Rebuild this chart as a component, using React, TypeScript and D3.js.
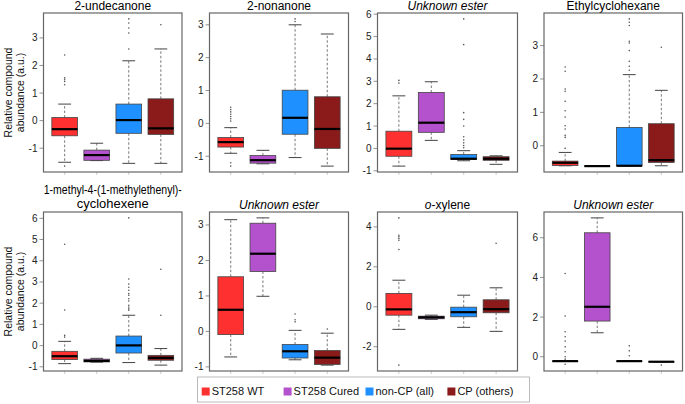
import * as d3 from 'd3'

// groups and their fills
const groups: string[] = ['ST258 WT', 'ST258 Cured', 'non-CP (all)', 'CP (others)']
const fills: string[] = ['#FF3030', '#B452CD', '#1E90FF', '#8B1A1A']

// box stats per group: [lower whisker, q1, median, q3, upper whisker]
const undecanoneStats = [[-1.51, -0.55, -0.31, 0.11, 0.6], [-1.45, -1.44, -1.25, -1.07, -0.82], [-1.55, -0.46, 0.02, 0.6, 2.17], [-1.55, -0.5, -0.28, 0.79, 2.6]]
const undecanoneOut = [[2.38, 1.55, 1.48, 1.42, 1.3, -1.65], [], [3.69, 3.54, 3.36, 3.18, 2.6], [3.48]]

const nonanoneStats = [[-0.91, -0.72, -0.57, -0.43, -0.13], [-1.23, -1.21, -1.12, -0.98, -0.82], [-1.04, -0.33, 0.17, 1.01, 3.0], [-1.3, -0.76, -0.17, 0.81, 2.72]]
const nonanoneOut = [[0.49, 0.42, 0.35, 0.28, 0.21, 0.14, 0.07, -1.2, -1.3], [], [3.18, 3.1], []]

const ester1Stats = [[-0.79, -0.35, -0.01, 0.77, 2.35], [0.36, 0.72, 1.15, 2.5, 2.98], [-0.55, -0.49, -0.46, -0.27, -0.1], [-0.71, -0.53, -0.46, -0.37, -0.33]]
const ester1Out = [[3.04, 2.92], [], [5.79, 4.64, 1.6, 1.3, 1.0, 0.52, 0.38, 0.25, 0.13, 0.03], []]

const ethylStats = [[-0.6, -0.59, -0.51, -0.46, -0.2], [-0.61, -0.61, -0.61, -0.61, -0.61], [-0.6, -0.6, -0.6, 0.55, 2.13], [-0.6, -0.5, -0.43, 0.66, 1.66]]
const ethylOut = [[2.36, 2.23, 1.7, 1.63, 1.33, 1.05, 0.86, 0.6, 0.5, 0.31, 0.25, -0.08], [], [3.8, 3.7, 3.6, 3.13, 3.08, 2.85, 2.53, 2.38, 2.26], [2.95]]

const limoneneStats = [[-0.85, -0.66, -0.5, -0.27, 0.2], [-0.78, -0.77, -0.72, -0.64, -0.6], [-0.8, -0.35, 0.01, 0.45, 1.43], [-0.92, -0.69, -0.58, -0.46, -0.14]]
const limoneneOut = [[4.78, 1.68, 0.48, 0.4], [], [6.02, 3.14, 2.9, 2.75, 2.61, 2.45, 2.37, 2.21, 2.1, 1.9, 1.82, 1.74, 1.67], [3.6, 1.43]]

const ester2Stats = [[-0.72, -0.09, 0.61, 1.54, 3.15], [0.99, 1.69, 2.19, 3.05, 3.2], [-0.8, -0.75, -0.56, -0.37, 0.03], [-0.95, -0.93, -0.74, -0.54, -0.05]]
const ester2Out = [[], [], [0.49, 0.33, 0.27], [0.07]]

const xyleneStats = [[-1.13, -0.42, -0.13, 0.67, 1.33], [-0.63, -0.6, -0.53, -0.47, -0.42], [-1.03, -0.5, -0.27, -0.02, 0.58], [-1.23, -0.3, -0.12, 0.35, 0.95]]
const xyleneOut = [[4.45, 3.58, 3.5, 3.42, 3.33, 2.87, -2.92], [], [], [3.18]]

const ester3Stats = [[-0.22, -0.22, -0.22, -0.22, -0.22], [1.21, 1.8, 2.52, 6.25, 7.0], [-0.22, -0.22, -0.22, -0.22, -0.22], [-0.25, -0.25, -0.25, -0.25, -0.25]]
const ester3Out = [[4.2, 2.05, 1.26, 1.01, 0.79, 0.5, 0.25, 0.0, -0.12, -0.38], [], [0.55, 0.3, 0.05], [-0.42]]

const titles: string[][] = [['2-undecanone'], ['2-nonanone'], ['Unknown ester'], ['Ethylcyclohexane'],
  ['1-methyl-4-(1-methylethenyl)-', 'cyclohexene'], ['Unknown ester'], ['o-xylene'], ['Unknown ester']]
const yTicks: number[][] = [[-1, 0, 1, 2, 3], [-1, 0, 1, 2, 3], [-1, 0, 1, 2, 3, 4, 5, 6], [0, 1, 2, 3],
  [-1, 0, 1, 2, 3, 4, 5, 6], [-1, 0, 1, 2, 3], [-2, 0, 2, 4], [0, 2, 4, 6]]
const statsList = [undecanoneStats, nonanoneStats, ester1Stats, ethylStats, limoneneStats, ester2Stats, xyleneStats, ester3Stats]
const outList = [undecanoneOut, nonanoneOut, ester1Out, ethylOut, limoneneOut, ester2Out, xyleneOut, ester3Out]

const colL = [43.5, 209.5, 377.5, 544]
const colR = [182, 348.5, 517.5, 682.5]
const rowT = [13, 212]
const rowB = [172, 371]
const font = '"Liberation Sans", Arial, sans-serif'

function Panel({ idx }: { idx: number }) {
  const col = idx % 4
  const row = Math.floor(idx / 4)
  const x0 = colL[col], x1 = colR[col], y0 = rowT[row], y1 = rowB[row]
  const stats = statsList[idx]
  const outs = outList[idx]
  const all = stats.flat().concat(outs.flat())
  const lo = d3.min(all) as number
  const hi = d3.max(all) as number
  const ext = (hi - lo) * 0.04
  const y = d3.scaleLinear().domain([lo - ext, hi + ext]).range([y1, y0])
  const x = d3.scaleLinear().domain([0.34, 4.66]).range([x0, x1])
  const bw = x(1.8) - x(1)
  const cw = bw / 2
  const t = titles[idx]
  const cx = (x0 + x1) / 2
  const italic = t[0] === 'Unknown ester'
  return (
    <g>
      {t.length === 2 ? (
        <>
          <text x={cx} y={194} textAnchor="middle" fontSize={12} textLength={138} lengthAdjust="spacingAndGlyphs">{t[0]}</text>
          <text x={cx} y={207.5} textAnchor="middle" fontSize={12} textLength={72} lengthAdjust="spacingAndGlyphs">{t[1]}</text>
        </>
      ) : t[0] === 'o-xylene' ? (
        <text x={cx} y={y0 - 3.5} textAnchor="middle" fontSize={12}><tspan fontStyle="italic">o</tspan>-xylene</text>
      ) : (
        <text x={cx} y={y0 - 3.5} textAnchor="middle" fontSize={12} fontStyle={italic ? 'italic' : 'normal'}>{t[0]}</text>
      )}
      {yTicks[idx].map(v => (
        <g key={v}>
          <line x1={x0 - 4} x2={x0} y1={y(v)} y2={y(v)} stroke="#777" strokeWidth={0.8} />
          <text x={x0 - 6} y={y(v) + 3.5} textAnchor="end" fontSize={10} fill="#222">{v}</text>
        </g>
      ))}
      {[1, 2, 3, 4].map(i => (
        <line key={i} x1={x(i)} x2={x(i)} y1={y1} y2={y1 + 3} stroke="#aaa" strokeWidth={0.6} />
      ))}
      {stats.map((s, i) => {
        const c = x(i + 1)
        return (
          <g key={i}>
            <line x1={c} x2={c} y1={y(s[3])} y2={y(s[4])} stroke="#555" strokeWidth={0.8} strokeDasharray="2.5,2" />
            <line x1={c} x2={c} y1={y(s[1])} y2={y(s[0])} stroke="#555" strokeWidth={0.8} strokeDasharray="2.5,2" />
            <line x1={c - cw / 2} x2={c + cw / 2} y1={y(s[4])} y2={y(s[4])} stroke="#444" strokeWidth={1} />
            <line x1={c - cw / 2} x2={c + cw / 2} y1={y(s[0])} y2={y(s[0])} stroke="#444" strokeWidth={1} />
            <rect x={c - bw / 2} y={y(s[3])} width={bw} height={Math.max(0.1, y(s[1]) - y(s[3]))}
              fill={fills[i]} stroke="#444" strokeWidth={0.8} />
            <line x1={c - bw / 2} x2={c + bw / 2} y1={y(s[2])} y2={y(s[2])} stroke="#000" strokeWidth={2.2} />
            {outs[i].map((o, j) => (
              <circle key={j} cx={c} cy={y(o)} r={0.8} fill="#555" />
            ))}
          </g>
        )
      })}
      <rect x={x0} y={y0} width={x1 - x0} height={y1 - y0} fill="none" stroke="#666" strokeWidth={1.2} />
    </g>
  )
}

export default function App() {
  return (
    <svg width={685} height={404} style={{ position: 'absolute', left: 0, top: 0, background: '#fff' }} fontFamily={font}>
      <rect width={685} height={404} fill="#fff" />
      {[0, 1].map(r => {
        const cy = (rowT[r] + rowB[r]) / 2
        return (
          <g key={r} transform={`translate(0, ${cy}) rotate(-90)`} fontSize={10.5} textAnchor="middle" fill="#111">
            <text x={0} y={12}>Relative compound</text>
            <text x={0} y={24}>abundance (a.u.)</text>
          </g>
        )
      })}
      {d3.range(8).map(i => <Panel key={i} idx={i} />)}
      <rect x={197.5} y={377} width={332} height={25} fill="none" stroke="#aaa" strokeWidth={0.8} />
      {groups.map((g, i) => (
        <g key={g} transform={`translate(${201.7 + i * 81.9}, 0)`}>
          <rect x={0} y={387.5} width={8} height={8} fill={fills[i]} />
          <text x={10} y={395} fontSize={11} fill="#111">{g}</text>
        </g>
      ))}
    </svg>
  )
}
